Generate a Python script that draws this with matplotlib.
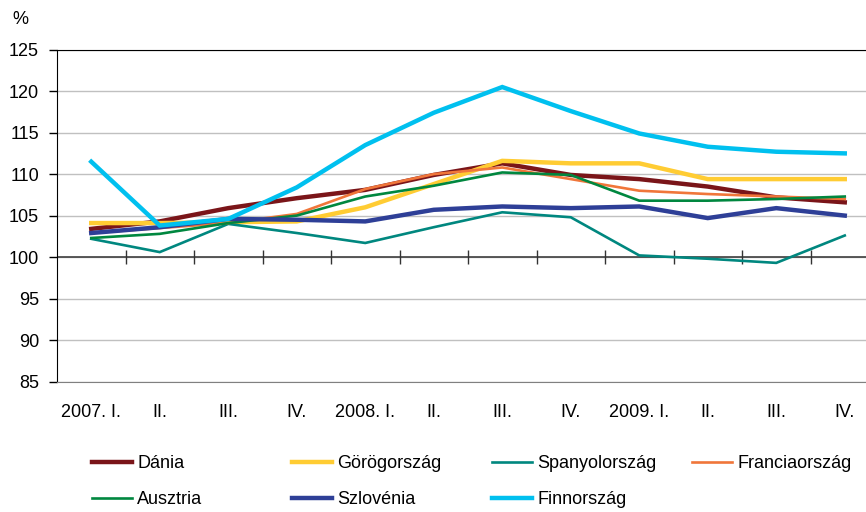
import matplotlib
matplotlib.use('Agg')
import matplotlib.pyplot as plt

plt.rcParams['font.family'] = ['Liberation Sans', 'DejaVu Sans']

# Adatok
negyedevek = ['2007. I.', 'II.', 'III.', 'IV.', '2008. I.', 'II.', 'III.', 'IV.',
              '2009. I.', 'II.', 'III.', 'IV.']

dania = [103.4, 104.3, 105.9, 107.1, 108.1, 109.9, 111.3, 109.9, 109.4, 108.5, 107.2, 106.6]
gorogorszag = [104.1, 104.1, 104.2, 104.3, 106.0, 108.8, 111.6, 111.3, 111.3, 109.4, 109.4, 109.4]
spanyolorszag = [102.2, 100.6, 104.0, 102.9, 101.7, 103.6, 105.4, 104.8, 100.2, 99.8, 99.3, 102.6]
franciaorszag = [102.9, 103.5, 104.1, 105.2, 108.2, 110.0, 110.8, 109.4, 108.0, 107.6, 107.3, 107.0]
ausztria = [102.3, 102.8, 104.1, 105.0, 107.3, 108.6, 110.2, 109.9, 106.8, 106.8, 107.0, 107.3]
szlovenia = [102.9, 103.6, 104.6, 104.5, 104.3, 105.7, 106.1, 105.9, 106.1, 104.7, 105.9, 105.0]
finnorszag = [111.5, 103.8, 104.6, 108.4, 113.5, 117.4, 120.5, 117.6, 114.9, 113.3, 112.7, 112.5]

sorozatok = [
    ('Dánia', dania, '#7a1519', 3.2),
    ('Görögország', gorogorszag, '#ffcc33', 3.2),
    ('Spanyolország', spanyolorszag, '#00877f', 1.9),
    ('Franciaország', franciaorszag, '#f0763a', 1.9),
    ('Ausztria', ausztria, '#00873f', 1.9),
    ('Szlovénia', szlovenia, '#2e3f97', 3.2),
    ('Finnország', finnorszag, '#00c0ef', 3.2),
]

meret = 13

fig = plt.figure(figsize=(8.66, 5.12), dpi=100)
ax = fig.add_axes([57 / 866, 1 - 381.5 / 512, (879 - 57) / 866, (381.5 - 49.7) / 512])

x = list(range(len(negyedevek)))
vonalak = {}
for nev, ertekek, szin, vastag in sorozatok:
    vonalak[nev], = ax.plot(x, ertekek, color=szin, lw=vastag, label=nev,
                            solid_joinstyle='miter', zorder=3)

ax.set_xlim(-0.5, len(negyedevek) - 0.5)
ax.set_ylim(85, 125)
ax.set_yticks(range(85, 126, 5))
ax.yaxis.grid(True, color='#c0c0c0', lw=1)
ax.set_axisbelow(True)

ax.set_xticks(x)
ax.set_xticklabels(negyedevek)
ax.tick_params(axis='x', length=0, pad=16, labelsize=meret)
ax.tick_params(axis='y', length=6, width=1, pad=7, labelsize=meret, color='black')

ax.spines['left'].set_color('black')
ax.spines['top'].set_color('black')
ax.spines['bottom'].set_color('#808080')
ax.spines['right'].set_visible(False)

# 100-as tengely a negyedév-határokon lévő osztásokkal
ax.axhline(100, color='#404040', lw=1.2, zorder=2)
hatarok = [i + 0.5 for i in x[:-1]]
ax.vlines(hatarok, 100 - 0.85, 100 + 0.85, color='#333333', lw=1, zorder=2)

fig.text(20 / 866, 1 - 20 / 512, '%', fontsize=meret, ha='center', va='center')

# Jelmagyarázat: két sor, négy egyforma szélességű oszlop
oszlopok = [['Dánia', 'Ausztria'], ['Görögország', 'Szlovénia'],
            ['Spanyolország', 'Finnország'], ['Franciaország']]
for i, nevek in enumerate(oszlopok):
    fig.legend([vonalak[n] for n in nevek], nevek,
               loc='upper left', bbox_to_anchor=((92 + i * 200) / 866, 1 - 455 / 512),
               frameon=False, fontsize=meret, handlelength=2.2, handletextpad=0.3,
               labelspacing=1.07, borderaxespad=0, borderpad=0)

fig.savefig('out.png', dpi=100)
